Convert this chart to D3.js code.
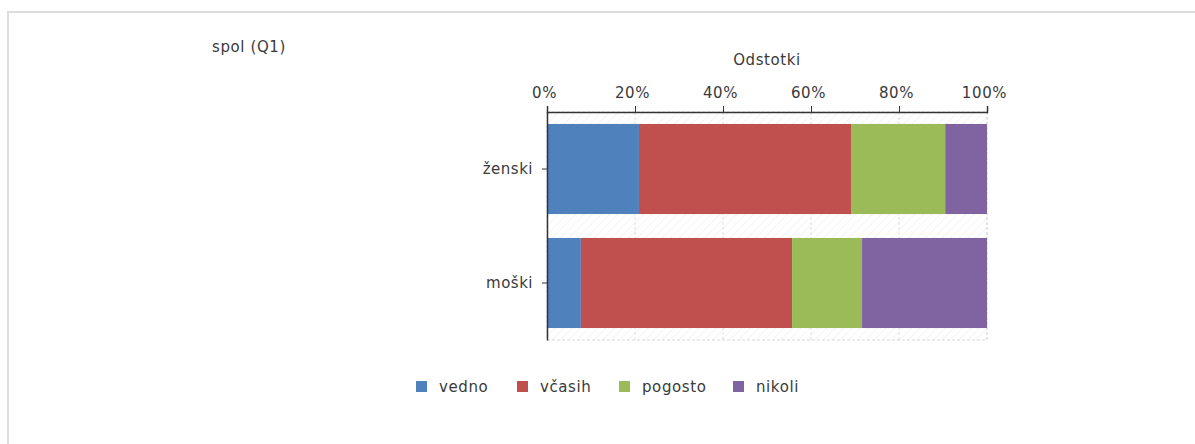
<!DOCTYPE html>
<html>
<head>
<meta charset="utf-8">
<script src="https://cdn.jsdelivr.net/npm/d3@7"></script>
<style>
  html, body { margin: 0; padding: 0; background: #fff; }
  svg text { font-family: "DejaVu Sans", Verdana, sans-serif; fill: #3a3a3a; }
</style>
</head>
<body>
<svg id="chart" width="1195" height="444"></svg>
<script>
// Response categories and shares (percent) per group
const categories = ["ženski", "moški"];
const seriesNames = ["vedno", "včasih", "pogosto", "nikoli"];
const vedno   = [20.9, 7.7];
const vcasih  = [48.2, 48.0];
const pogosto = [21.4, 15.9];
const nikoli  = [9.5, 28.4];
const tickValues = [0, 20, 40, 60, 80, 100];
const colors = ["#4F81BD", "#C0504D", "#9BBB59", "#8064A2"];

const seriesValues = [vedno, vcasih, pogosto, nikoli];
const rows = categories.map((c, i) => {
  const r = { cat: c };
  seriesNames.forEach((s, j) => r[s] = seriesValues[j][i]);
  return r;
});

const svg = d3.select("#chart");

// Outer frame
svg.append("path")
  .attr("d", "M8,444 L8,12 L1195,12")
  .attr("fill", "none")
  .attr("stroke", "#dcdcdc")
  .attr("stroke-width", 2);

// Title
svg.append("text")
  .attr("x", 212).attr("y", 52)
  .style("font-size", "15px").style("letter-spacing", "0.6px")
  .text("spol (Q1)");

const plot = { left: 547, right: 987, top: 112, bottom: 340 };

const x = d3.scaleLinear().domain([0, 100]).range([plot.left, plot.right]);
const y = d3.scaleBand().domain(categories)
  .range([plot.top, plot.bottom]).paddingInner(0.21).paddingOuter(0.105);

// Hatched plot background
const defs = svg.append("defs");
const pat = defs.append("pattern")
  .attr("id", "hatch").attr("patternUnits", "userSpaceOnUse")
  .attr("width", 6).attr("height", 6)
  .attr("patternTransform", "rotate(45)");
pat.append("line").attr("x1", 0).attr("y1", 0).attr("x2", 0).attr("y2", 6)
  .attr("stroke", "#ececec").attr("stroke-width", 1.2);

svg.append("rect")
  .attr("x", plot.left).attr("y", plot.top)
  .attr("width", plot.right - plot.left).attr("height", plot.bottom - plot.top)
  .attr("fill", "url(#hatch)")
  .attr("stroke", "#d8d8d8").attr("stroke-dasharray", "3,2");

// Vertical gridlines
svg.append("g").selectAll("line")
  .data(tickValues.slice(1))
  .join("line")
  .attr("x1", d => x(d)).attr("x2", d => x(d))
  .attr("y1", plot.top).attr("y2", plot.bottom)
  .attr("stroke", "#dedede").attr("stroke-dasharray", "3,2");

// Stacked bars
const stack = d3.stack().keys(seriesNames)(rows);
svg.append("g").selectAll("g")
  .data(stack)
  .join("g")
  .attr("fill", (d, i) => colors[i])
  .selectAll("rect")
  .data(d => d)
  .join("rect")
  .attr("x", d => x(d[0]))
  .attr("y", d => y(d.data.cat))
  .attr("width", d => x(d[1]) - x(d[0]))
  .attr("height", y.bandwidth());

// Top axis
const xAxis = d3.axisTop(x).tickValues(tickValues)
  .tickFormat(d => d + "%").tickSize(6).tickPadding(8);
const gx = svg.append("g").attr("transform", `translate(0,${plot.top})`).call(xAxis);
gx.select(".domain").attr("stroke", "#333").attr("stroke-width", 1.5);
gx.selectAll(".tick line").attr("stroke", "#333");
gx.selectAll("text")
  .attr("dx", -3)
  .style("font-size", "15px").style("letter-spacing", "0.6px")
  .style("font-family", "DejaVu Sans, Verdana, sans-serif")
  .attr("fill", "#3a3a3a");

// Axis title
svg.append("text")
  .attr("x", x(50)).attr("y", 65).attr("text-anchor", "middle")
  .style("font-size", "15px").style("letter-spacing", "0.6px")
  .text("Odstotki");

// Left axis
const yAxis = d3.axisLeft(y).tickSize(5).tickPadding(9).tickSizeOuter(0);
const gy = svg.append("g").attr("transform", `translate(${plot.left},0)`).call(yAxis);
gy.select(".domain").attr("stroke", "#333").attr("stroke-width", 1.5);
gy.selectAll(".tick line").attr("stroke", "#333");
gy.selectAll("text")
  .style("font-size", "15px").style("letter-spacing", "0.5px")
  .style("font-family", "DejaVu Sans, Verdana, sans-serif")
  .attr("fill", "#3a3a3a");

// Legend
const legendX = [416, 517, 619, 733];
const legend = svg.append("g").selectAll("g")
  .data(seriesNames)
  .join("g")
  .attr("transform", (d, i) => `translate(${legendX[i]},381)`);
legend.append("rect").attr("width", 11).attr("height", 11)
  .attr("fill", (d, i) => colors[i]);
legend.append("text").attr("x", 23).attr("y", 11)
  .style("font-size", "15px").style("letter-spacing", "0.6px")
  .text(d => d);
</script>
</body>
</html>
